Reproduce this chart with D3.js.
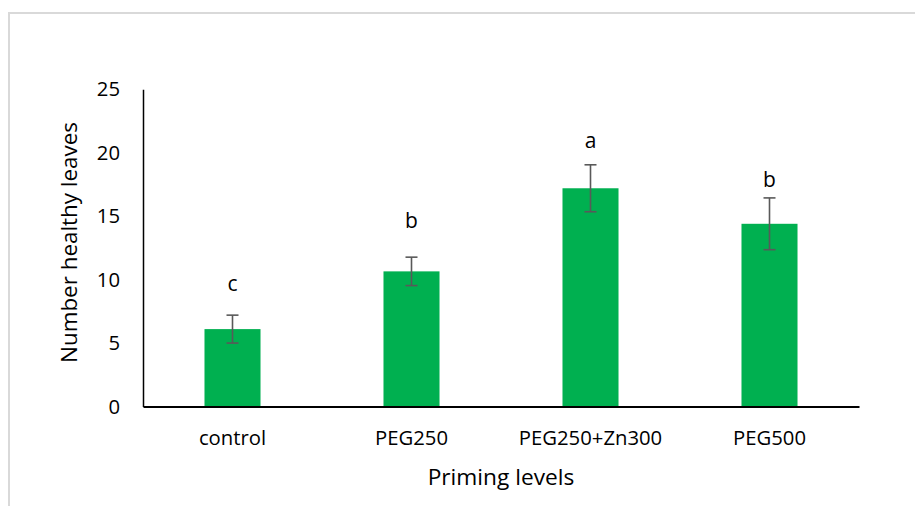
<!DOCTYPE html>
<html>
<head>
<meta charset="utf-8">
<script src="https://cdn.jsdelivr.net/npm/d3@7"></script>
<style>
  html, body { margin: 0; padding: 0; background: #ffffff; }
  svg { display: block; }
  text { font-family: "Open Sans", "Noto Sans", sans-serif; fill: #000000; }
</style>
</head>
<body>
<svg id="chart" width="915" height="506"></svg>
<script>
// Number of healthy leaves per priming level (mean ± error)
const categories = ["control", "PEG250", "PEG250+Zn300", "PEG500"];
const meanLeaves = [6.1, 10.65, 17.2, 14.4];
const errLeaves = [1.1, 1.12, 1.85, 2.04];
// Significance letters and the value height at which each one sits
const groupLetters = ["c", "b", "a", "b"];
const letterLevels = [9.07, 14.07, 20.35, 17.27];
const yTicks = [0, 5, 10, 15, 20, 25];

const W = 915, H = 506;
const plot = { left: 143, right: 859, top: 89.3, bottom: 406.5 };

const svg = d3.select("#chart");

// chart-area frame
svg.append("rect")
  .attr("x", 9).attr("y", 13)
  .attr("width", W).attr("height", H)
  .attr("fill", "none")
  .attr("stroke", "#d9d9d9")
  .attr("stroke-width", 2);

const x = d3.scaleBand()
  .domain(categories)
  .range([plot.left, plot.right])
  .paddingInner(0.687)
  .paddingOuter(0.3435);

const y = d3.scaleLinear()
  .domain([0, 25])
  .range([plot.bottom, plot.top]);

const rows = categories.map((c, i) => ({
  cat: c, mean: meanLeaves[i], err: errLeaves[i],
  letter: groupLetters[i], letterAt: letterLevels[i]
}));

// bars
svg.append("g").selectAll("rect")
  .data(rows)
  .join("rect")
  .attr("x", d => x(d.cat))
  .attr("y", d => y(d.mean))
  .attr("width", x.bandwidth())
  .attr("height", d => y(0) - y(d.mean))
  .attr("fill", "#00b050");

// error bars
const capHalf = 6;
const eb = svg.append("g")
  .attr("stroke", "#595959")
  .attr("stroke-width", 1.6)
  .attr("fill", "none");
rows.forEach(d => {
  const cx = x(d.cat) + x.bandwidth() / 2;
  const top = y(d.mean + d.err), bot = y(d.mean - d.err);
  eb.append("line").attr("x1", cx).attr("x2", cx).attr("y1", top).attr("y2", bot);
  eb.append("line").attr("x1", cx - capHalf).attr("x2", cx + capHalf).attr("y1", top).attr("y2", top);
  eb.append("line").attr("x1", cx - capHalf).attr("x2", cx + capHalf).attr("y1", bot).attr("y2", bot);
});

// significance letters
svg.append("g").selectAll("text")
  .data(rows)
  .join("text")
  .attr("x", d => x(d.cat) + x.bandwidth() / 2)
  .attr("y", d => y(d.letterAt))
  .attr("text-anchor", "middle")
  .attr("font-size", "21px")
  .text(d => d.letter);

// y axis
const yAxis = svg.append("g")
  .attr("transform", `translate(${plot.left},0)`)
  .call(d3.axisLeft(y).tickValues(yTicks).tickSize(0).tickPadding(23).tickFormat(d3.format("d")));
yAxis.select(".domain").attr("stroke", "#000").attr("stroke-width", 1.5);
yAxis.selectAll("text")
  .attr("font-size", "20.3px")
  .attr("font-family", "'Open Sans', 'Noto Sans', sans-serif")
  .attr("fill", "#000");

// x axis
const xAxis = svg.append("g")
  .attr("transform", `translate(0,${plot.bottom})`)
  .call(d3.axisBottom(x).tickSize(0).tickSizeOuter(0).tickPadding(24));
xAxis.select(".domain").attr("stroke", "#000").attr("stroke-width", 2);
xAxis.selectAll("text")
  .attr("font-size", "20.3px")
  .attr("font-family", "'Open Sans', 'Noto Sans', sans-serif")
  .attr("fill", "#000");

// axis titles
svg.append("text")
  .attr("x", (plot.left + plot.right) / 2)
  .attr("y", 485)
  .attr("text-anchor", "middle")
  .attr("font-size", "22.7px")
  .text("Priming levels");

svg.append("text")
  .attr("transform", `translate(77,242.5) rotate(-90)`)
  .attr("text-anchor", "middle")
  .attr("font-size", "22.4px")
  .text("Number healthy leaves");
</script>
</body>
</html>
